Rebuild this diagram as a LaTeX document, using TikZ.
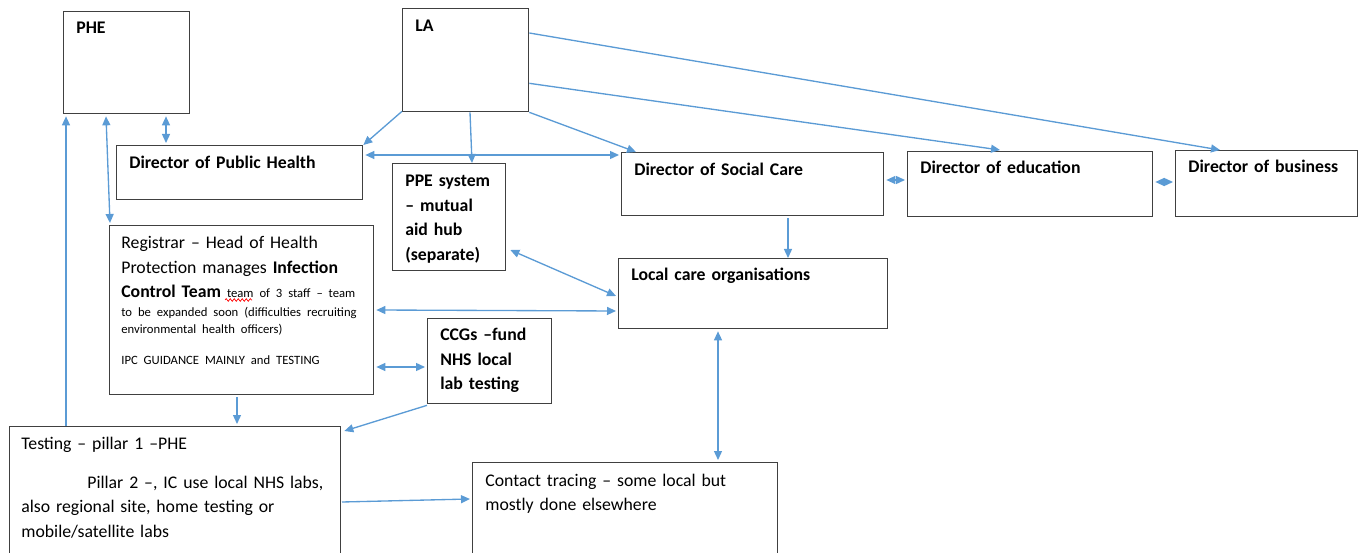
\documentclass[tikz,border=0pt]{standalone}
\usepackage{fontspec}
\setmainfont{Carlito}
\usepackage{tikz}
\usetikzlibrary{arrows.meta, positioning, calc, decorations.pathmorphing}
\definecolor{linkblue}{RGB}{91,155,213}
\definecolor{boxgray}{RGB}{64,64,64}
\newcommand{\pxu}{0.6pt}
\newcommand{\bigtxt}{\fontsize{10.65}{14.6}\selectfont}
\newcommand{\smalltxt}{\fontsize{7.6}{10.2}\selectfont}
\setlength{\parindent}{0pt}

\begin{document}
\begin{tikzpicture}[x=0.6pt,y=-0.6pt,
    box/.style 2 args={draw=boxgray,line width=0.8pt,anchor=north west,inner sep=0pt,minimum width=#1*\pxu,minimum height=#2*\pxu},
    lbl/.style={anchor=base west,inner sep=0pt,align=left,text width=420*\pxu,font=\bigtxt\bfseries},
    txt/.style={anchor=base west,inner sep=0pt,align=left,text width=420*\pxu,font=\bigtxt},
    link/.style={draw=linkblue,line width=0.8pt,-{Triangle[length=5.4pt,width=4.8pt]}},
    dlink/.style={draw=linkblue,line width=0.8pt,{Triangle[length=5.4pt,width=4.8pt]}-{Triangle[length=5.4pt,width=4.8pt]}}]
    \useasboundingbox (0,0) rectangle (1363,553);

    % Riquadri
    \node[box={126}{102}] (phe) at (63,11) {};
    \node[box={126}{103}] (la) at (402,8) {};
    \node[box={246}{54}] (dph) at (116,145) {};
    \node[box={113}{107}] (ppe) at (392,163) {};
    \node[box={262}{63}] (dsc) at (621,152) {};
    \node[box={245}{65}] (ded) at (907,151) {};
    \node[box={182}{66}] (dbu) at (1175,150) {};
    \node[box={269}{70}] (lco) at (618,258) {};
    \node[box={264}{169}] (reg) at (109,225) {};
    \node[box={124}{85}] (ccg) at (427,318) {};
    \node[box={331}{140}] (tst) at (9,426) {};
    \node[box={305}{100}] (ctr) at (472,462) {};

    % Testi
    \node[lbl] (pheT) at ($(phe.north west)+(13,23)$) {PHE};
    \node[lbl] (laT) at ($(la.north west)+(13,24)$) {LA};
    \node[lbl] (dphT) at ($(dph.north west)+(13,24)$) {Director of Public Health};
    \node[lbl,font=\fontsize{10.65}{14.7}\selectfont\bfseries] (ppeT) at ($(ppe.north west)+(13,24)$) {PPE system\\ – mutual\\ aid hub\\ (separate)};
    \node[lbl] (dscT) at ($(dsc.north west)+(13,24)$) {Director of Social Care};
    \node[lbl] (dedT) at ($(ded.north west)+(13,23)$) {Director of education};
    \node[lbl] (dbuT) at ($(dbu.north west)+(13,23)$) {Director of business};
    \node[lbl] (lcoT) at ($(lco.north west)+(13,23)$) {Local care organisations};
    \node[txt] (regT) at ($(reg.north west)+(12,24)$) {Registrar – Head of Health\\
        Protection manages \textbf{Infection}\\
        \textbf{Control Team} {\smalltxt team of 3 staff – team}\par
        \vspace{1.2pt}{\smalltxt to be expanded soon (difficulties recruiting\\
        environmental health officers)\par}
        \vspace{8.4pt}{\smalltxt IPC GUIDANCE MAINLY and TESTING\par}};
    \node[lbl,font=\fontsize{10.65}{14.7}\selectfont\bfseries] (ccgT) at ($(ccg.north west)+(13,23)$) {CCGs –fund\\ NHS local\\ lab testing};
    \node[txt] (tstT) at ($(tst.north west)+(12,23)$) {Testing – pillar 1 –PHE\\[9pt]
        \hspace*{39.6pt}Pillar 2 –, IC use local NHS labs,\\
        also regional site, home testing or\\
        mobile/satellite labs};
    \node[txt] (ctrT) at ($(ctr.north west)+(13,24)$) {Contact tracing – some local but\\ mostly done elsewhere};

    % Sottolineatura ortografica
    \draw[red,line width=0.4pt,decorate,decoration={snake,amplitude=0.8pt,segment length=2.4pt}]
        ($(reg.north west)+(116,75)$) -- ($(reg.north west)+(143,75)$);

    % Collegamenti
    \draw[link] ($(tst.north west)+(57,0)$) -- ($(phe.south west)+(3,2)$);
    \draw[dlink] ($(phe.south west)+(43,2)$) -- ($(reg.north west)+(1,-2)$);
    \draw[dlink] ($(phe.south west)+(103,2)$) -- ($(dph.north west)+(50,-2)$);
    \draw[link] ($(la.south west)+(0,-1)$) -- (dph.north east);
    \draw[link] ($(la.south west)+(68,0)$) -- ($(ppe.north west)+(80,0)$);
    \draw[link] (la.south east) -- ($(dsc.north west)+(15,0)$);
    \draw[dlink] ($(dph.north east)+(2,10)$) -- ($(dsc.north west)+(-2,3)$);
    \draw[link] ($(la.south east)+(0,-29)$) -- ($(ded.north west)+(93,-1)$);
    \draw[link] ($(la.north east)+(0,25)$) -- ($(dbu.north west)+(45,0)$);
    \draw[dlink] ($(dsc.north east)+(2,28)$) -- ($(ded.north west)+(-2,29)$);
    \draw[dlink] ($(ded.north east)+(2,31)$) -- ($(dbu.north west)+(-2,32)$);
    \draw[link] ($(dsc.south west)+(167,2)$) -- ($(lco.north west)+(170,0)$);
    \draw[dlink] ($(ppe.north east)+(4,87)$) -- ($(lco.north west)+(-2,38)$);
    \draw[dlink] ($(reg.north east)+(2,85)$) -- ($(lco.north west)+(-2,53)$);
    \draw[dlink] ($(reg.north east)+(2,142)$) -- ($(ccg.north west)+(-2,49)$);
    \draw[link] ($(reg.south west)+(128,2)$) -- ($(tst.north west)+(228,-2)$);
    \draw[link] ($(ccg.south west)+(0,1)$) -- ($(tst.north east)+(3,5)$);
    \draw[dlink] ($(lco.south west)+(100,2)$) -- ($(ctr.north west)+(246,-2)$);
    \draw[link] ($(tst.north west)+(333,76)$) -- ($(ctr.north west)+(-2,37)$);
\end{tikzpicture}
\end{document}
